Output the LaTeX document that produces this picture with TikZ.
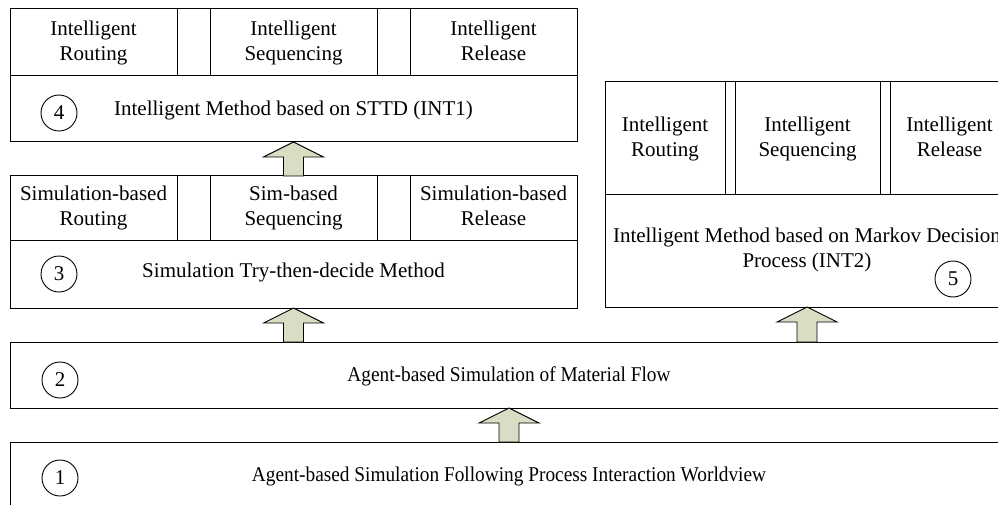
\documentclass[tikz,border=0pt]{standalone}
\usepackage{fontspec}
\usepackage{graphicx}
\setmainfont{Liberation Serif}
\usetikzlibrary{calc}
\definecolor{arrowfill}{RGB}{217,221,196}
\tikzset{
  cell/.style={draw, rectangle, line width=1pt, inner sep=0pt, outer sep=0pt, align=center,
    font=\fontsize{21}{25}\selectfont},
  lbl/.style={inner sep=0pt, align=center, font=\fontsize{21}{25}\selectfont},
  numc/.style={draw, circle, line width=0.9pt, minimum size=36pt, inner sep=0pt,
    font=\fontsize{21}{25}\selectfont},
  upar/.style={draw, fill=arrowfill, line width=0.9pt, line join=miter}
}
\newcommand{\blockup}[2]{%
  \draw[upar] let \p1=(#1), \p2=(#2) in
    (\x1,\y1) -- (\x1+30pt,\y1-15pt) -- (\x1+10pt,\y1-15pt) -- (\x1+10pt,\y2)
    -- (\x1-10pt,\y2) -- (\x1-10pt,\y1-15pt) -- (\x1-30pt,\y1-15pt) -- cycle;}
\begin{document}
\begin{tikzpicture}[x=1pt,y=-1pt]
\useasboundingbox (0,0) rectangle (998,505);
\clip (0,0) rectangle (998,505);

% ---- Box 4 ----
\node[cell, minimum width=567pt, minimum height=133pt] (b4) at (293.5,75.5) {};
\node[cell, minimum width=167pt, minimum height=67pt] (b4r) at (93.5,42.5) {Intelligent\\Routing};
\node[cell, minimum width=33pt, minimum height=67pt] (b4g1) at (193.5,42.5) {};
\node[cell, minimum width=167pt, minimum height=67pt] (b4s) at (293.5,42.5) {Intelligent\\Sequencing};
\node[cell, minimum width=33pt, minimum height=67pt] (b4g2) at (393.5,42.5) {};
\node[cell, minimum width=167pt, minimum height=67pt] (b4l) at (493.5,42.5) {Intelligent\\Release\vphantom{g}};
\node[lbl] (t4) at (293.5,110) {Intelligent Method based on STTD (INT1)};
\node[numc] (n4) at (59,113) {4};

% ---- Box 3 ----
\node[cell, minimum width=567pt, minimum height=132pt] (b3) at (293.5,242) {};
\node[cell, minimum width=167pt, minimum height=64pt] (b3r) at (93.5,208) {Simulation-based\\Routing};
\node[cell, minimum width=33pt, minimum height=64pt] (b3g1) at (193.5,208) {};
\node[cell, minimum width=167pt, minimum height=64pt] (b3s) at (293.5,208) {Sim-based\\Sequencing};
\node[cell, minimum width=33pt, minimum height=64pt] (b3g2) at (393.5,208) {};
\node[cell, minimum width=167pt, minimum height=64pt] (b3l) at (493.5,208) {Simulation-based\\Release\vphantom{g}};
\node[lbl] (t3) at (293.5,272) {Simulation Try-then-decide Method};
\node[numc] (n3) at (59,274) {3};

% ---- Box 5 ----
\node[cell, minimum width=404pt, minimum height=225pt] (b5) at (807,194.5) {};
\node[cell, minimum width=120pt, minimum height=113pt] (b5r) at (665,138.5) {Intelligent\\Routing};
\node[cell, minimum width=10pt, minimum height=113pt] (b5g1) at (730,138.5) {};
\node[cell, minimum width=145pt, minimum height=113pt] (b5s) at (807.5,138.5) {Intelligent\\Sequencing};
\node[cell, minimum width=10pt, minimum height=113pt] (b5g2) at (885,138.5) {};
\node[cell, minimum width=119pt, minimum height=113pt] (b5l) at (949.5,138.5) {Intelligent\\Release\vphantom{g}};
\node[lbl] (t5) at (807,250) {Intelligent Method based on Markov Decision\\Process (INT2)};
\node[numc] (n5) at (953,279) {5};

% ---- Box 2 ----
\node[cell, minimum width=998pt, minimum height=66pt] (b2) at (509,375) {};
\node[lbl] (t2) at (509,376) {\scalebox{0.92}[1]{Agent-based Simulation of Material Flow}};
\node[numc] (n2) at (60,380) {2};

% ---- Box 1 ----
\node[cell, minimum width=998pt, minimum height=66pt] (b1) at (509,475) {};
\node[lbl] (t1) at (509,476) {\scalebox{0.92}[1]{Agent-based Simulation Following Process Interaction Worldview}};
\node[numc] (n1) at (60,478) {1};

% ---- block arrows ----
\blockup{b4.south}{b3.north}
\blockup{b3.south}{b2.north}
\blockup{b5.south}{b2.north}
\blockup{b2.south}{b1.north}
\end{tikzpicture}
\end{document}
